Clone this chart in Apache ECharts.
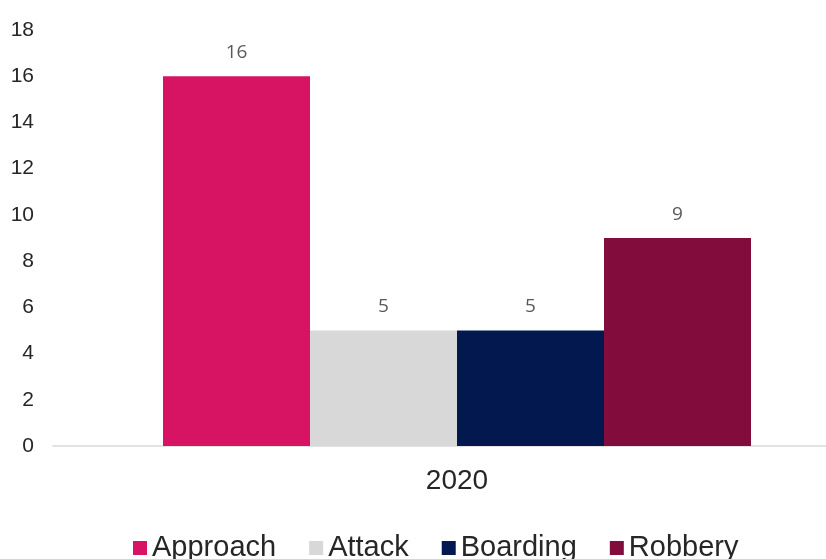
<!DOCTYPE html>
<html>
<head>
<meta charset="utf-8">
<title>Incidents by type, 2020</title>
<script src="https://cdn.jsdelivr.net/npm/echarts@6/dist/echarts.min.js"></script>
<style>
  html, body { margin: 0; padding: 0; background: #ffffff; }
  #chart { width: 826px; height: 559px; }
</style>
</head>
<body>
<div id="chart"></div>
<script>
// Categories and values
const years = ['2020'];
const seriesNames = ['Approach', 'Attack', 'Boarding', 'Robbery'];
const approach = [16];
const attack = [5];
const boarding = [5];
const robbery = [9];
const seriesColors = ['#D71463', '#D8D8D8', '#02184F', '#820C3B'];
const yTicks = { min: 0, max: 18, interval: 2 };

const valueLists = [approach, attack, boarding, robbery];

const chart = echarts.init(document.getElementById('chart'), null, { renderer: 'canvas' });

chart.setOption({
  backgroundColor: '#ffffff',
  animation: false,
  // plot area runs past the right edge of the canvas
  grid: { left: 53, width: 808, top: 30, height: 416, containLabel: false, outerBoundsMode: 'none' },
  legend: {
    data: seriesNames,
    left: 128,
    top: 528,
    itemWidth: 14,
    itemHeight: 14,
    itemGap: 33,
    icon: 'rect',
    textStyle: { fontFamily: 'Liberation Sans, Arial, sans-serif', fontSize: 29, color: '#262626', lineHeight: 30 }
  },
  xAxis: {
    type: 'category',
    data: years,
    axisLine: { show: true, lineStyle: { color: '#D9D9D9', width: 1.5 } },
    axisTick: { show: false },
    axisLabel: { margin: 21, fontFamily: 'Liberation Sans, Arial, sans-serif', fontSize: 28, color: '#262626' }
  },
  yAxis: {
    type: 'value',
    min: yTicks.min,
    max: yTicks.max,
    interval: yTicks.interval,
    axisLine: { show: false },
    axisTick: { show: false },
    splitLine: { show: false },
    axisLabel: { margin: 19, fontFamily: 'Liberation Sans, Arial, sans-serif', fontSize: 21, color: '#262626' }
  },
  series: seriesNames.map((name, i) => ({
    name: name,
    type: 'bar',
    data: valueLists[i],
    barWidth: 147,
    barGap: '0%',
    itemStyle: { color: seriesColors[i] },
    label: {
      show: true,
      position: 'top',
      distance: 14,
      fontFamily: 'Open Sans, sans-serif',
      fontSize: 19,
      color: '#595959'
    }
  }))
});
</script>
</body>
</html>
